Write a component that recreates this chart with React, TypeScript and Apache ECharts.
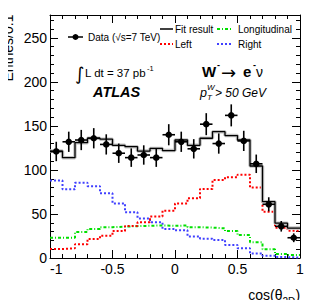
import React, { useEffect, useRef } from "react";
import * as echarts from "echarts";

const binCenters = [-0.95, -0.85, -0.75, -0.65, -0.55, -0.45, -0.35, -0.25, -0.15, -0.05, 0.05, 0.15, 0.25, 0.35, 0.45, 0.55, 0.65, 0.75, 0.85, 0.95];
const binHalfWidth = 0.05;
const dataValues = [121, 132, 134, 136, 129, 119, 114, 117, 114, 140, 132, 124, 152, 130, 162, 133, 107, 61, 36, 23];
const dataErrors = [11, 11.5, 11.5, 11.5, 11.5, 11, 10.5, 11, 10.5, 12, 11.5, 11, 12.5, 11.5, 12.5, 11.5, 10.5, 8, 6, 5];
const fitValues = [121.5, 114, 131, 136, 135, 128, 126.5, 121.5, 124.5, 122, 134, 128, 136, 143.5, 139, 134, 104.5, 64, 39.5, 34];
const leftValues = [10.2, 11, 15.5, 21.6, 25.4, 30.7, 36.4, 40.5, 47, 53.8, 62, 67.8, 78.4, 88.6, 91.7, 94.5, 80, 52.6, 34.4, 31];
const longValues = [23, 23, 29.5, 33, 35, 35.6, 36.2, 36.6, 37, 36.5, 37, 35, 34.5, 33.7, 30.7, 26, 17.8, 9.8, 4.5, 3.4];
const rightValues = [88, 78, 85.5, 81.5, 73.5, 62, 52, 45, 40.5, 33, 31.5, 24.5, 22, 20.5, 14.8, 11, 5, 2.5, 1, 0.5];
const xMin = -1;
const xMax = 1;
const yMax = 276;

const FONT = "'Liberation Sans', Arial, Helvetica, sans-serif";
const RED = "#ff0000";
const GREEN = "#00e000";
const BLUE = "#4040ff";
const DASHDOT = [3, 2, 1, 2];

function stepData(values: number[]) {
  const pts: number[][] = binCenters.map((c, i) => [c - binHalfWidth, values[i]]);
  pts.push([binCenters[binCenters.length - 1] + binHalfWidth, values[values.length - 1]]);
  return pts;
}

export default function App() {
  const ref = useRef<HTMLDivElement>(null);
  useEffect(() => {
    if (!ref.current) return;
    const chart = echarts.init(ref.current, undefined, { renderer: "svg" });
    const txt = (x: number, y: number, text: string, size: number, extra: any = {}) => ({
      type: "text",
      x,
      y,
      style: {
        text,
        fontSize: size,
        fontFamily: FONT,
        fill: "#000",
        textAlign: "left",
        textVerticalAlign: "middle",
        ...extra,
      },
    });
    const seg = (x1: number, y1: number, x2: number, y2: number, stroke: string, lineDash?: any) => ({
      type: "line",
      shape: { x1, y1, x2, y2 },
      style: { stroke, lineWidth: lineDash ? 2 : 1.5, lineDash },
    });
    const axisCommon = {
      axisLine: { show: true, onZero: false, lineStyle: { color: "#000", width: 1 } },
      axisTick: { show: true, inside: true, length: 8, lineStyle: { color: "#000", width: 1 } },
      minorTick: { show: true, splitNumber: 5, length: 4, lineStyle: { color: "#000", width: 1 } },
      splitLine: { show: false },
      minorSplitLine: { show: false },
    };
    const hiddenParts = {
      axisLine: { show: false },
      axisTick: { show: false },
      axisLabel: { show: false },
      splitLine: { show: false },
    };
    const option: any = {
      animation: false,
      grid: [
        { left: 50, right: 16, top: 15, bottom: 50 },
        { left: 50, width: 10, top: 15, height: 66 },
      ],
      xAxis: [
        {
          type: "value",
          min: xMin,
          max: xMax,
          interval: 0.5,
          position: "bottom",
          ...axisCommon,
          axisLabel: { fontSize: 14, color: "#000", fontFamily: FONT, margin: 4, alignMinLabel: "left" },
        },
        {
          type: "value",
          min: xMin,
          max: xMax,
          interval: 0.5,
          position: "top",
          ...axisCommon,
          axisLabel: { show: false },
        },
        { type: "value", gridIndex: 1, min: 0, max: 1, ...hiddenParts },
      ],
      yAxis: [
        {
          type: "value",
          min: 0,
          max: yMax,
          interval: 50,
          position: "left",
          ...axisCommon,
          axisLabel: { fontSize: 14, color: "#000", fontFamily: FONT, margin: 3, showMaxLabel: false },
        },
        {
          type: "value",
          min: 0,
          max: yMax,
          interval: 50,
          position: "right",
          ...axisCommon,
          axisLabel: { show: false },
        },
        {
          type: "value",
          gridIndex: 1,
          min: 0,
          max: 1,
          position: "left",
          ...hiddenParts,
          name: "Entries/0.1",
          nameLocation: "middle",
          nameRotate: 90,
          nameGap: 37,
          nameTextStyle: { fontSize: 14, color: "#000", fontFamily: FONT },
        },
      ],
      series: [
        {
          type: "line",
          step: "end",
          showSymbol: false,
          data: stepData(rightValues),
          lineStyle: { color: BLUE, width: 2, type: "dotted" },
          z: 2,
        },
        {
          type: "line",
          step: "end",
          showSymbol: false,
          data: stepData(longValues),
          lineStyle: { color: GREEN, width: 2, type: DASHDOT },
          z: 2,
        },
        {
          type: "line",
          step: "end",
          showSymbol: false,
          data: stepData(leftValues),
          lineStyle: { color: RED, width: 2, type: "dotted" },
          z: 3,
        },
        {
          type: "line",
          step: "end",
          showSymbol: false,
          data: stepData(fitValues),
          lineStyle: { color: "#c4c4c4", width: 3.5 },
          z: 4,
        },
        {
          type: "line",
          step: "end",
          showSymbol: false,
          data: stepData(fitValues),
          lineStyle: { color: "#000", width: 1.3 },
          z: 5,
        },
        {
          type: "custom",
          z: 6,
          data: binCenters.map((c, i) => [c, dataValues[i], dataErrors[i]]),
          renderItem: (params: any, api: any) => {
            const x = api.value(0);
            const y = api.value(1);
            const e = api.value(2);
            const p = api.coord([x, y]);
            const t = api.coord([x, y + e]);
            const b = api.coord([x, y - e]);
            const l = api.coord([x - binHalfWidth, y]);
            const r = api.coord([x + binHalfWidth, y]);
            const st = { stroke: "#000", lineWidth: 1.6 };
            return {
              type: "group",
              children: [
                { type: "line", shape: { x1: t[0], y1: t[1], x2: b[0], y2: b[1] }, style: st },
                { type: "line", shape: { x1: l[0], y1: l[1], x2: r[0], y2: r[1] }, style: st },
                { type: "circle", shape: { cx: p[0], cy: p[1], r: 3.3 }, style: { fill: "#000" } },
              ],
            };
          },
        },
      ],
      graphic: [
        // x axis title
        txt(282.5, 295, "cos(θ", 14, { textAlign: "right" }),
        txt(282.5, 301, "2D", 10),
        txt(295.5, 295, ")", 14),
        // legend
        seg(68, 37, 83, 37, "#000"),
        { type: "circle", shape: { cx: 75.5, cy: 37, r: 3 }, style: { fill: "#000" } },
        txt(88, 37, "Data (√s=7 TeV)", 10),
        seg(160, 29, 173, 29, "#000"),
        txt(175, 29, "Fit result", 10),
        seg(217, 29, 233, 29, GREEN, DASHDOT),
        txt(238, 29, "Longitudinal", 10),
        seg(160, 44, 173, 44, RED, [2, 2]),
        txt(175, 44, "Left", 10),
        seg(217, 44, 233, 44, BLUE, [2, 2]),
        txt(238, 44, "Right", 10),
        // luminosity
        txt(75, 73, "∫", 18, { fontFamily: "'DejaVu Sans', sans-serif" }),
        txt(85, 73, "L dt = 37 pb", 11.5),
        txt(147, 68, "-1", 7.5),
        // ATLAS
        txt(93, 92, "ATLAS", 14.5, { fontWeight: "bold", fontStyle: "italic" }),
        // channel
        txt(202, 71, "W", 15, { fontWeight: "bold" }),
        txt(217, 65, "-", 9, { fontWeight: "bold" }),
        txt(221, 72, "→", 18, { fontFamily: "'DejaVu Sans', sans-serif" }),
        txt(243, 71, "e", 15, { fontWeight: "bold" }),
        txt(253, 65, "-", 9, { fontWeight: "bold" }),
        txt(256, 72, "ν", 14),
        // pT cut
        txt(200, 92.5, "p", 12.5, { fontStyle: "italic" }),
        txt(207, 87, "W", 8, { fontStyle: "italic" }),
        txt(207, 97.5, "T", 8, { fontStyle: "italic" }),
        txt(215, 92.5, "> 50 GeV", 12, { fontStyle: "italic" }),
      ],
    };
    chart.setOption(option);
    return () => chart.dispose();
  }, []);
  return <div ref={ref} style={{ width: 316, height: 308, margin: -8 }} />;
}
